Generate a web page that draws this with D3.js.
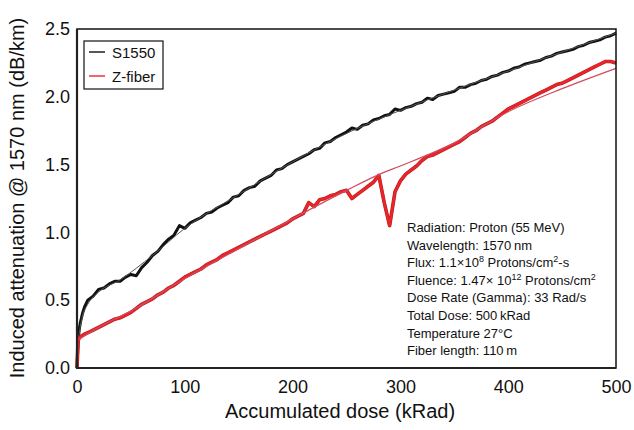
<!DOCTYPE html>
<html>
<head>
<meta charset="utf-8">
<script src="https://cdn.jsdelivr.net/npm/d3@7"></script>
<style>
  body { margin: 0; background: #fff; }
  text { font-family: "Liberation Sans", Arial, Helvetica, sans-serif; fill: #111; }
</style>
</head>
<body>
<div id="chart"></div>
<script>
var width  = 634;
var height = 430;

// dose grid (kRad): dense at the start, then every 5 kRad
var dose = [0, 1, 2, 3, 5, 7].concat(d3.range(10, 501, 5));

// S1550 induced attenuation (dB/km)
var s1550 = [0.00, 0.20, 0.28, 0.33, 0.40, 0.45,
  0.50, 0.53, 0.58, 0.59, 0.62, 0.64, 0.64, 0.67, 0.69, 0.68, 0.74, 0.78, 0.83, 0.86,
  0.91, 0.95, 0.98, 1.05, 1.03, 1.07, 1.09, 1.11, 1.14, 1.15, 1.18, 1.20, 1.22, 1.26,
  1.27, 1.31, 1.33, 1.34, 1.38, 1.40, 1.42, 1.46, 1.47, 1.50, 1.52, 1.54, 1.56, 1.58,
  1.61, 1.62, 1.66, 1.67, 1.70, 1.72, 1.74, 1.77, 1.76, 1.79, 1.80, 1.83, 1.84, 1.86,
  1.87, 1.91, 1.90, 1.92, 1.93, 1.95, 1.96, 1.99, 1.98, 2.01, 2.02, 2.03, 2.04, 2.07,
  2.07, 2.09, 2.10, 2.12, 2.13, 2.15, 2.16, 2.18, 2.19, 2.21, 2.22, 2.24, 2.25, 2.26,
  2.27, 2.29, 2.30, 2.32, 2.33, 2.34, 2.35, 2.37, 2.38, 2.40, 2.41, 2.42, 2.44, 2.45, 2.47];

// Z-fiber induced attenuation (dB/km)
var zfiber = [0.00, 0.20, 0.22, 0.23, 0.24, 0.25,
  0.26, 0.28, 0.30, 0.32, 0.34, 0.36, 0.37, 0.39, 0.41, 0.44, 0.47, 0.49, 0.51, 0.54,
  0.56, 0.59, 0.61, 0.64, 0.67, 0.69, 0.71, 0.73, 0.76, 0.78, 0.80, 0.83, 0.85, 0.87,
  0.89, 0.91, 0.93, 0.95, 0.97, 0.99, 1.01, 1.03, 1.05, 1.07, 1.10, 1.12, 1.14, 1.22,
  1.19, 1.24, 1.25, 1.27, 1.28, 1.30, 1.31, 1.25, 1.28, 1.31, 1.34, 1.37, 1.42, 1.22,
  1.05, 1.30, 1.38, 1.43, 1.46, 1.49, 1.53, 1.56, 1.57, 1.59, 1.61, 1.63, 1.65, 1.67,
  1.70, 1.73, 1.75, 1.78, 1.80, 1.82, 1.85, 1.88, 1.91, 1.93, 1.95, 1.97, 1.99, 2.01,
  2.03, 2.05, 2.07, 2.09, 2.10, 2.12, 2.14, 2.16, 2.18, 2.20, 2.22, 2.24, 2.26, 2.26, 2.25];

// fitted curves
var fitDoseS = [0, 5, 10, 20, 40, 70, 100, 150, 200, 250, 300, 350, 400, 450, 500];
var fitS1550 = [0.15, 0.38, 0.47, 0.56, 0.65, 0.83, 1.03, 1.28, 1.52, 1.73, 1.90, 2.05, 2.19, 2.33, 2.47];
var fitDoseZ = [0, 20, 50, 100, 150, 200, 250, 281, 300, 350, 400, 450, 500];
var fitZfiber = [0.20, 0.30, 0.42, 0.66, 0.88, 1.10, 1.31, 1.43, 1.49, 1.66, 1.89, 2.06, 2.21];

var xTicks = [0, 100, 200, 300, 400, 500];
var yTicks = [0, 0.5, 1.0, 1.5, 2.0, 2.5];

var notes = [
  ["Radiation: Proton (55 MeV)"],
  ["Wavelength: 1570\u2009nm"],
  ["Flux: 1.1\u00d710", "8", " Protons/cm", "2", "-s"],
  ["Fluence: 1.47\u00d7 10", "12", " Protons/cm", "2"],
  ["Dose Rate (Gamma): 33 Rad/s"],
  ["Total Dose: 500\u2009kRad"],
  ["Temperature 27\u00b0C"],
  ["Fiber length: 110\u2009m"]
];

var svg = d3.select("#chart").append("svg")
  .attr("width", width)
  .attr("height", height);

var x = d3.scaleLinear().domain([0, 500]).range([77, 616]);
var y = d3.scaleLinear().domain([0, 2.5]).range([368, 29]);

// axes: labels only, no tick marks
svg.append("g")
  .attr("transform", "translate(77,0)")
  .call(d3.axisLeft(y).tickValues(yTicks).tickFormat(d3.format(".1f")).tickSize(0).tickPadding(7))
  .call(function(g) { g.select(".domain").remove(); })
  .selectAll("text").style("font-size", "18px").style("font-family", null);

svg.append("g")
  .attr("transform", "translate(0,368)")
  .call(d3.axisBottom(x).tickValues(xTicks).tickSize(0).tickPadding(12))
  .call(function(g) { g.select(".domain").remove(); })
  .selectAll("text").style("font-size", "18px").style("font-family", null);

// curves
function line(xs) {
  return d3.line()
    .x(function(d, i) { return x(xs[i]); })
    .y(function(d) { return y(d); });
}

svg.append("path")
  .attr("d", line(dose)(s1550))
  .attr("fill", "none")
  .attr("stroke", "#111")
  .attr("stroke-width", 3)
  .attr("stroke-linejoin", "round");

svg.append("path")
  .attr("d", line(fitDoseS).curve(d3.curveMonotoneX)(fitS1550))
  .attr("fill", "none")
  .attr("stroke", "#555")
  .attr("stroke-width", 1);

svg.append("path")
  .attr("d", line(dose)(zfiber))
  .attr("fill", "none")
  .attr("stroke", "#b01e1e")
  .attr("stroke-width", 3.6)
  .attr("stroke-linejoin", "round");

svg.append("path")
  .attr("d", line(dose)(zfiber))
  .attr("fill", "none")
  .attr("stroke", "#ea2428")
  .attr("stroke-width", 2.6)
  .attr("stroke-linejoin", "round");

svg.append("path")
  .attr("d", line(fitDoseZ).curve(d3.curveMonotoneX)(fitZfiber))
  .attr("fill", "none")
  .attr("stroke", "#d24a60")
  .attr("stroke-width", 1.2);

// plot frame
svg.append("rect")
  .attr("x", 77).attr("y", 29)
  .attr("width", 539).attr("height", 339)
  .attr("fill", "none")
  .attr("stroke", "#111")
  .attr("stroke-width", 1.5);

svg.append("path")
  .attr("d", "M77,29V368H616")
  .attr("fill", "none")
  .attr("stroke", "#222")
  .attr("stroke-width", 2.2);

// legend
var legend = svg.append("g");
legend.append("rect")
  .attr("x", 84).attr("y", 41)
  .attr("width", 79).attr("height", 48)
  .attr("fill", "#fff")
  .attr("stroke", "#111")
  .attr("stroke-width", 1.2);

[["S1550", "#111"], ["Z-fiber", "#e8262a"]].forEach(function(d, i) {
  var cy = 52 + i * 24;
  legend.append("line")
    .attr("x1", 89).attr("x2", 105)
    .attr("y1", cy).attr("y2", cy)
    .attr("stroke", d[1])
    .attr("stroke-width", 1.4);
  legend.append("text")
    .attr("x", 112).attr("y", cy + 5.5)
    .style("font-size", "15px")
    .text(d[0]);
});

// annotation block
var note = svg.append("g");
notes.forEach(function(parts, i) {
  var t = note.append("text")
    .attr("x", 407)
    .attr("y", 232 + i * 17.6)
    .style("font-size", "13px");
  parts.forEach(function(p, j) {
    var sup = j % 2 === 1;
    t.append("tspan")
      .attr("baseline-shift", sup ? "super" : null)
      .style("font-size", sup ? "9px" : null)
      .text(p);
  });
});

// axis titles
svg.append("text")
  .attr("x", 340).attr("y", 418)
  .attr("text-anchor", "middle")
  .style("font-size", "20px")
  .text("Accumulated dose (kRad)");

svg.append("text")
  .attr("transform", "translate(24,198) rotate(-90)")
  .attr("text-anchor", "middle")
  .style("font-size", "20px")
  .text("Induced attenuation @ 1570 nm (dB/km)");
</script>
</body>
</html>
